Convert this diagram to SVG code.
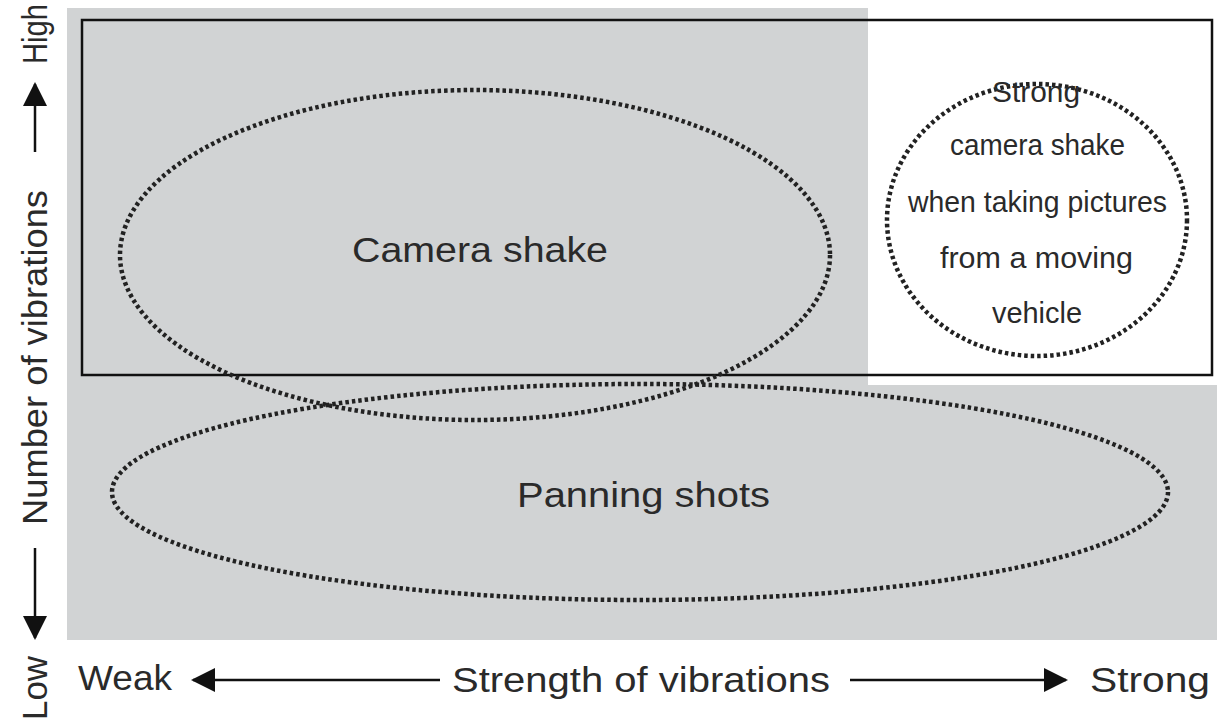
<svg xmlns="http://www.w3.org/2000/svg" width="1217" height="723" viewBox="0 0 1217 723">
<defs>
<style>
text{font-family:"Liberation Sans",Arial,sans-serif;fill:#2a2a2a}
.big{font-size:35px}
.sm{font-size:29px}
.dot{fill:none;stroke:#222;stroke-width:4.5;stroke-dasharray:3.5 3}
.ax{stroke:#111;stroke-width:2.5}
</style>
<marker id="ah" viewBox="0 0 24 24" refX="22" refY="12" markerWidth="24" markerHeight="24" markerUnits="userSpaceOnUse" orient="auto">
<path d="M0,0 L24,12 L0,24 z" fill="#111"/>
</marker>
</defs>
<rect width="1217" height="723" fill="#fff"/>
<g id="background">
<rect x="67" y="8" width="801" height="632" fill="#d1d3d4"/>
<rect x="67" y="385" width="1150" height="255" fill="#d1d3d4"/>
</g>
<g id="high-region"><rect x="82" y="20" width="1130" height="355" fill="none" stroke="#111" stroke-width="2.5"/></g>
<g id="camera-shake">
<ellipse cx="475" cy="255" rx="355" ry="165" class="dot"/>
<text x="352" y="262" class="big" textLength="256" lengthAdjust="spacingAndGlyphs">Camera shake</text>
</g>
<g id="panning-shots">
<ellipse cx="640" cy="492" rx="528" ry="108" class="dot"/>
<text x="517" y="507" class="big" textLength="253" lengthAdjust="spacingAndGlyphs">Panning shots</text>
</g>
<g id="strong-shake">
<ellipse cx="1037" cy="220" rx="150" ry="136" class="dot"/>
<text x="992" y="102" class="sm" textLength="88" lengthAdjust="spacingAndGlyphs">Strong</text>
<text x="950" y="155" class="sm" textLength="175" lengthAdjust="spacingAndGlyphs">camera shake</text>
<text x="908" y="212" class="sm" textLength="259" lengthAdjust="spacingAndGlyphs">when taking pictures</text>
<text x="940" y="268" class="sm" textLength="193" lengthAdjust="spacingAndGlyphs">from a moving</text>
<text x="992" y="323" class="sm" textLength="90" lengthAdjust="spacingAndGlyphs">vehicle</text>
</g>
<g id="connectors">
<line x1="35" y1="152" x2="35" y2="84" class="ax" marker-end="url(#ah)"/>
<line x1="35" y1="548" x2="35" y2="638" class="ax" marker-end="url(#ah)"/>
<line x1="440" y1="680" x2="193" y2="680" class="ax" marker-end="url(#ah)"/>
<line x1="850" y1="680" x2="1066" y2="680" class="ax" marker-end="url(#ah)"/>
</g>
<g id="axis-labels">
<text transform="translate(47,525) rotate(-90)" class="big" textLength="335" lengthAdjust="spacingAndGlyphs">Number of vibrations</text>
<text transform="translate(47,64) rotate(-90)" class="big" textLength="60" lengthAdjust="spacingAndGlyphs">High</text>
<text transform="translate(47,720) rotate(-90)" class="big" textLength="64" lengthAdjust="spacingAndGlyphs">Low</text>
<text x="78" y="690" class="big" textLength="94" lengthAdjust="spacingAndGlyphs">Weak</text>
<text x="452" y="692" class="big" textLength="378" lengthAdjust="spacingAndGlyphs">Strength of vibrations</text>
<text x="1090" y="692" class="big" textLength="120" lengthAdjust="spacingAndGlyphs">Strong</text>
</g>
</svg>
